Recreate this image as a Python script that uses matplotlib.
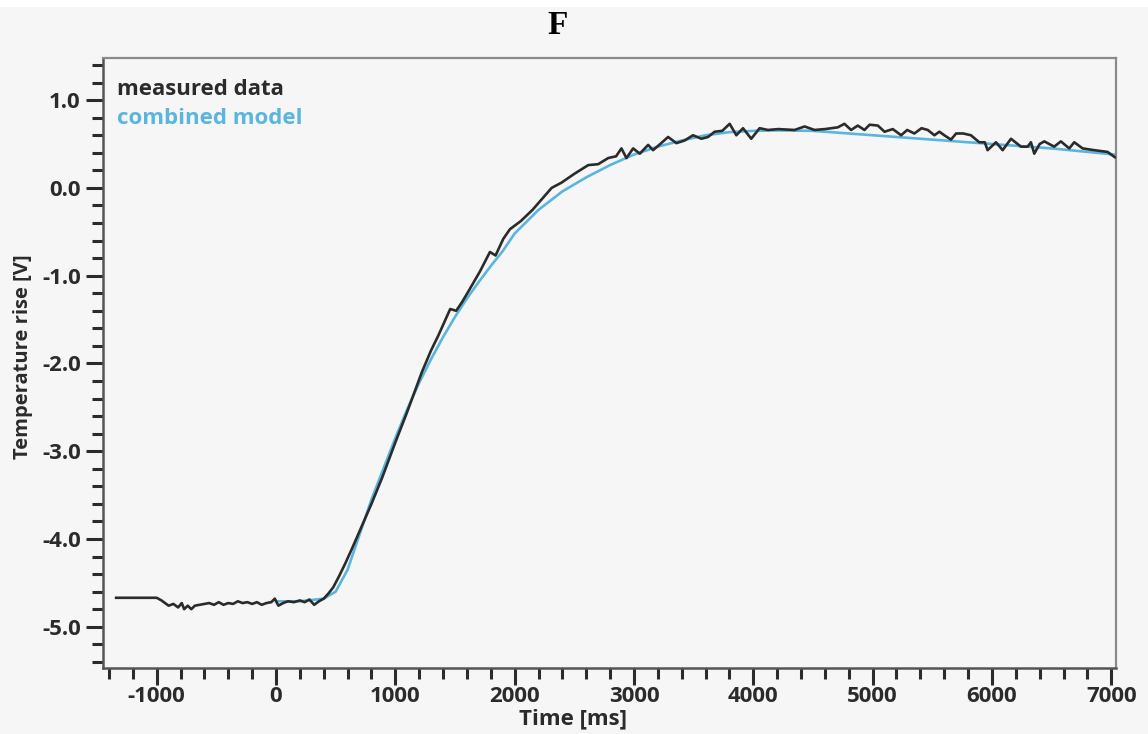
import matplotlib
matplotlib.use("Agg")
import matplotlib.pyplot as plt
from matplotlib.ticker import MultipleLocator
from matplotlib.patches import Rectangle

# measured temperature trace (time in ms, signal in V)
measured_t = [
    -1340, -1000, -960, -900, -860, -820, -790, -770, -740, -710, -680, -640,
    -600, -560, -520, -480, -440, -400, -360, -320, -280, -240, -200, -160,
    -120, -80, -40, -10, 20, 60, 100, 150, 200, 240, 280, 320, 360, 400,
    440, 480, 530, 580, 640, 720, 800, 890, 1000, 1100, 1222, 1300, 1361,
    1460, 1510, 1560, 1612, 1710, 1793, 1840, 1905, 1961, 2050, 2150, 2310,
    2393, 2500, 2617, 2700, 2784, 2850, 2895, 2937, 2993, 3049, 3119, 3160,
    3220, 3286, 3356, 3425, 3495, 3565, 3621, 3676, 3740, 3802, 3858, 3914,
    3983, 4053, 4123, 4210, 4346, 4430, 4513, 4600, 4708, 4764, 4820, 4876,
    4932, 4975, 5044, 5100, 5169, 5239, 5290, 5350, 5410, 5462, 5518, 5560,
    5601, 5657, 5700, 5760, 5824, 5894, 5940, 5964, 6034, 6090, 6160, 6243,
    6299, 6327, 6355, 6400, 6439, 6522, 6578, 6648, 6690, 6760, 6857, 6969,
    7030,
]
measured_v = [
    -4.67, -4.67, -4.70, -4.76, -4.74, -4.78, -4.73, -4.80, -4.76, -4.80, -4.76, -4.75,
    -4.74, -4.73, -4.75, -4.72, -4.75, -4.73, -4.74, -4.71, -4.73, -4.72, -4.74, -4.72,
    -4.75, -4.73, -4.72, -4.68, -4.76, -4.73, -4.71, -4.72, -4.70, -4.72, -4.69, -4.75,
    -4.71, -4.68, -4.62, -4.55, -4.42, -4.28, -4.10, -3.85, -3.60, -3.30, -2.90, -2.55,
    -2.10, -1.85, -1.68, -1.38, -1.40, -1.30, -1.18, -0.95, -0.73, -0.77, -0.58, -0.47,
    -0.38, -0.25, 0.00, 0.06, 0.16, 0.26, 0.27, 0.34, 0.36, 0.45, 0.34, 0.45,
    0.39, 0.49, 0.43, 0.50, 0.58, 0.51, 0.54, 0.60, 0.56, 0.58, 0.64, 0.65,
    0.73, 0.60, 0.68, 0.56, 0.68, 0.66, 0.67, 0.66, 0.70, 0.66, 0.67, 0.69,
    0.73, 0.66, 0.71, 0.66, 0.72, 0.71, 0.64, 0.67, 0.60, 0.66, 0.62, 0.68,
    0.66, 0.60, 0.64, 0.60, 0.55, 0.62, 0.62, 0.60, 0.52, 0.52, 0.43, 0.52,
    0.43, 0.56, 0.47, 0.47, 0.52, 0.39, 0.50, 0.53, 0.47, 0.53, 0.45, 0.52,
    0.45, 0.43, 0.41, 0.35,
]

# fitted model curve
model_t = [0, 200, 400, 500, 600, 700, 800, 900, 1000, 1100, 1200, 1300, 1400,
           1500, 1600, 1700, 1800, 1900, 2000, 2200, 2400, 2600, 2800, 3000,
           3200, 3400, 3600, 3800, 4000, 4200, 4500, 5000, 5500, 6000, 6500, 7030]
model_v = [-4.71, -4.71, -4.68, -4.60, -4.35, -3.95, -3.55, -3.20, -2.85, -2.52,
           -2.22, -1.95, -1.70, -1.47, -1.26, -1.07, -0.89, -0.72, -0.52, -0.25,
           -0.04, 0.12, 0.26, 0.38, 0.47, 0.54, 0.60, 0.635, 0.65, 0.655, 0.65,
           0.60, 0.55, 0.50, 0.45, 0.38]

BG = "#f6f6f6"
DARK = "#2b2b2b"
BLUE = "#5ab6de"

plt.rcParams["font.family"] = ["Open Sans", "DejaVu Sans"]
plt.rcParams["font.weight"] = "bold"
plt.rcParams["axes.unicode_minus"] = False

fig = plt.figure(figsize=(11.48, 7.34), dpi=100, facecolor=BG)
fig.patches.append(Rectangle((0, 1 - 7 / 734), 1, 7 / 734, transform=fig.transFigure,
                             facecolor="white", edgecolor="none", zorder=0))
ax = fig.add_axes([103 / 1148, 1 - 668 / 734, (1116 - 103) / 1148, (668 - 58) / 734])
ax.set_facecolor(BG)

ax.plot(measured_t, measured_v, color=DARK, lw=1.9, zorder=3)
ax.plot(model_t, model_v, color=BLUE, lw=1.9, zorder=2)

ax.set_xlim(-1450, 7040)
ax.set_ylim(-5.47, 1.48)

ax.xaxis.set_major_locator(MultipleLocator(1000))
ax.xaxis.set_minor_locator(MultipleLocator(200))
ax.yaxis.set_major_locator(MultipleLocator(1.0))
ax.yaxis.set_minor_locator(MultipleLocator(0.2))
ax.yaxis.set_major_formatter(lambda v, pos: f"{v:.1f}")

ax.tick_params(which="major", length=12, width=2.2, color=DARK, labelsize=16,
               labelcolor=DARK)
ax.tick_params(which="minor", length=8, width=2.2, color=DARK)
ax.tick_params(axis="y", which="both", pad=4)
ax.tick_params(axis="x", which="both", pad=1)

for side in ("left", "bottom"):
    ax.spines[side].set_color("#555555")
    ax.spines[side].set_linewidth(1.8)
for side in ("top", "right"):
    ax.spines[side].set_color("#8a8a8a")
    ax.spines[side].set_linewidth(1.6)

ax.set_xlabel("Time [ms]", fontsize=16, fontweight="bold", color=DARK)
ax.xaxis.set_label_coords(0.464, -0.066)
ax.set_ylabel("Temperature rise [V]", fontsize=14.5, fontweight="bold", color=DARK)
ax.yaxis.set_label_coords(-0.069, 0.511)

ax.text(0.014, 0.949, "measured data", transform=ax.transAxes, fontsize=16,
        fontweight="bold", color=DARK, va="center", ha="left")
ax.text(0.014, 0.900, "combined model", transform=ax.transAxes, fontsize=16,
        fontweight="bold", color=BLUE, va="center", ha="left")

fig.text(558 / 1148, 1 - 26 / 734, "F", family="Liberation Serif", fontsize=24,
         fontweight="bold", ha="center", va="center", color="black")

fig.savefig("out.png", dpi=100, facecolor=BG)
